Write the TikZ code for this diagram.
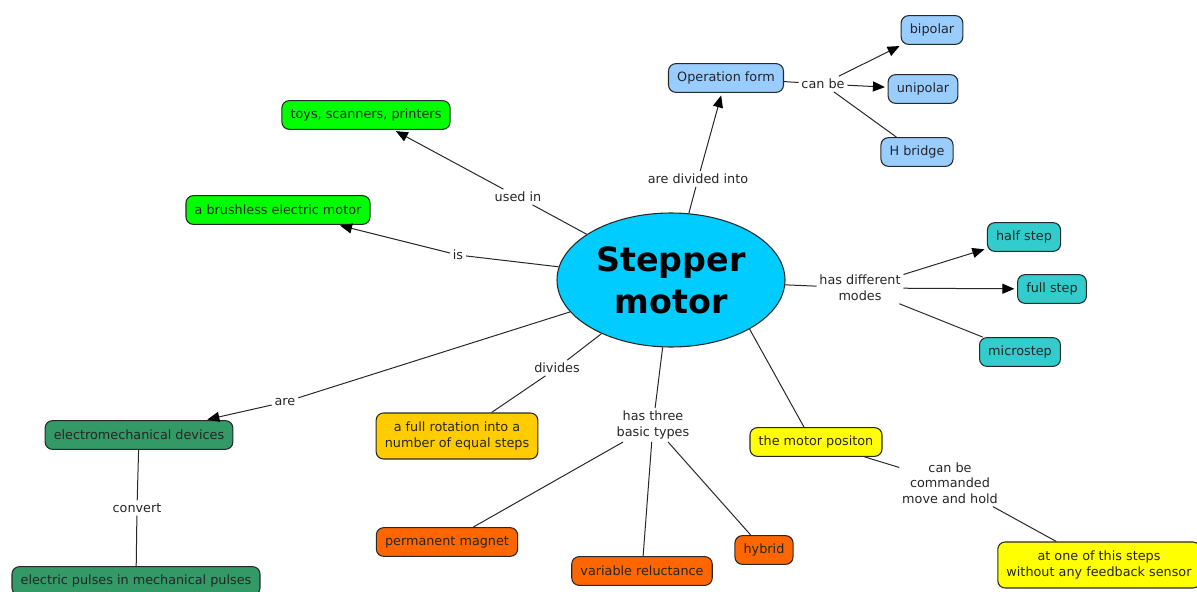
\documentclass[tikz,border=0pt]{standalone}
\usepackage{fontspec}
\setmainfont{DejaVu Sans}
\usetikzlibrary{shapes.geometric,arrows.meta}
\definecolor{opblue}{RGB}{153,204,255}
\definecolor{centblue}{RGB}{0,204,255}
\definecolor{brightgreen}{RGB}{0,255,0}
\definecolor{dkgreen}{RGB}{51,153,102}
\definecolor{amber}{RGB}{255,204,0}
\definecolor{orng}{RGB}{255,102,0}
\definecolor{yel}{RGB}{255,255,0}
\definecolor{tealbox}{RGB}{51,204,204}
\definecolor{edgegray}{RGB}{40,40,40}
\begin{document}
\begin{tikzpicture}[x=0.75pt,y=-0.75pt,
  box/.style={draw=edgegray,line width=0.8pt,rounded corners=5.5pt,inner xsep=6.5pt,inner ysep=3pt,minimum height=21.5pt,font=\fontsize{9.6}{11.8}\selectfont,align=center,text=black!85},
  lbl/.style={inner sep=2pt,font=\fontsize{9.6}{11.8}\selectfont,align=center,text=black!85},
  conn/.style={draw=edgegray,line width=0.75pt},
  arr/.style={conn,-{Triangle[length=9pt,width=7.5pt,color=black]},shorten >=2pt},
]
\useasboundingbox (0,0) rectangle (1197,592);

% central concept
\node[ellipse,draw=edgegray,line width=0.8pt,fill=centblue,minimum width=171pt,minimum height=100.5pt,inner sep=0pt,align=center,font=\fontsize{25}{31.5}\selectfont\bfseries] (SM) at (671,280) {Stepper\\motor};

% concept boxes
\node[box,fill=opblue] (OF) at (726,78) {Operation form};
\node[box,fill=opblue] (bip) at (932,30) {bipolar};
\node[box,fill=opblue] (uni) at (923,89) {unipolar};
\node[box,fill=opblue] (hb) at (917,152) {H bridge};

\node[box,fill=brightgreen] (toys) at (366,115) {toys, scanners, printers};
\node[box,fill=brightgreen] (brush) at (278,210) {a brushless electric motor};

\node[box,fill=tealbox] (half) at (1024,237) {half step};
\node[box,fill=tealbox] (full) at (1052,289) {full step};
\node[box,fill=tealbox] (micro) at (1020,352) {microstep};

\node[box,fill=dkgreen] (emd) at (139,435) {electromechanical devices};
\node[box,fill=dkgreen] (epm) at (136,581) {electric pulses in mechanical pulses};

\node[box,fill=amber,minimum height=34.5pt] (rot) at (457,436) {a full rotation into a\\number of equal steps};

\node[box,fill=orng] (pm) at (447,542) {permanent magnet};
\node[box,fill=orng] (vr) at (642,571) {variable reluctance};
\node[box,fill=orng] (hyb) at (764,550) {hybrid};

\node[box,fill=yel] (pos) at (816,442) {the motor positon};
\node[box,fill=yel,minimum height=34.5pt] (atone) at (1099,565) {at one of this steps\\without any feedback sensor};

% linking phrases
\node[lbl] (canbe) at (823,84) {can be};
\node[lbl] (divinto) at (698,179) {are divided into};
\node[lbl] (usedin) at (518,197) {used in};
\node[lbl] (is) at (458,255) {is};
\node[lbl] (modes) at (860,288) {has different\\modes};
\node[lbl] (are) at (285,402) {are};
\node[lbl] (convert) at (137,508) {convert};
\node[lbl] (divides) at (557,368) {divides};
\node[lbl] (types) at (653,425) {has three\\basic types};
\node[lbl] (cmd) at (950,483) {can be\\commanded\\move and hold};

% connectors
\draw[conn] (SM) -- (divinto);
\draw[arr] (divinto) -- (OF);
\draw[conn] (OF) -- (canbe);
\draw[arr] (canbe) -- (bip);
\draw[arr] (canbe) -- (uni);
\draw[conn] (canbe) -- (hb);

\draw[conn] (SM) -- (usedin);
\draw[arr] (usedin) -- (toys);
\draw[conn] (SM) -- (is);
\draw[arr] (is) -- (brush);

\draw[conn] (SM) -- (modes);
\draw[arr] (modes) -- (half);
\draw[arr] (modes) -- (full);
\draw[conn] (modes) -- (micro);

\draw[conn] (SM) -- (are);
\draw[arr] (are) -- (emd);
\draw[conn] (emd) -- (convert);
\draw[conn] (convert) -- (epm);

\draw[conn] (SM) -- (divides);
\draw[conn] (divides) -- (rot);

\draw[conn] (SM) -- (types);
\draw[conn] (types) -- (pm);
\draw[conn] (types) -- (vr);
\draw[conn] (types) -- (hyb);

\draw[conn] (SM.-32) -- ([xshift=-9pt]pos.north);
\draw[conn] (pos) -- (cmd);
\draw[conn] (cmd) -- (atone);
\end{tikzpicture}
\end{document}
